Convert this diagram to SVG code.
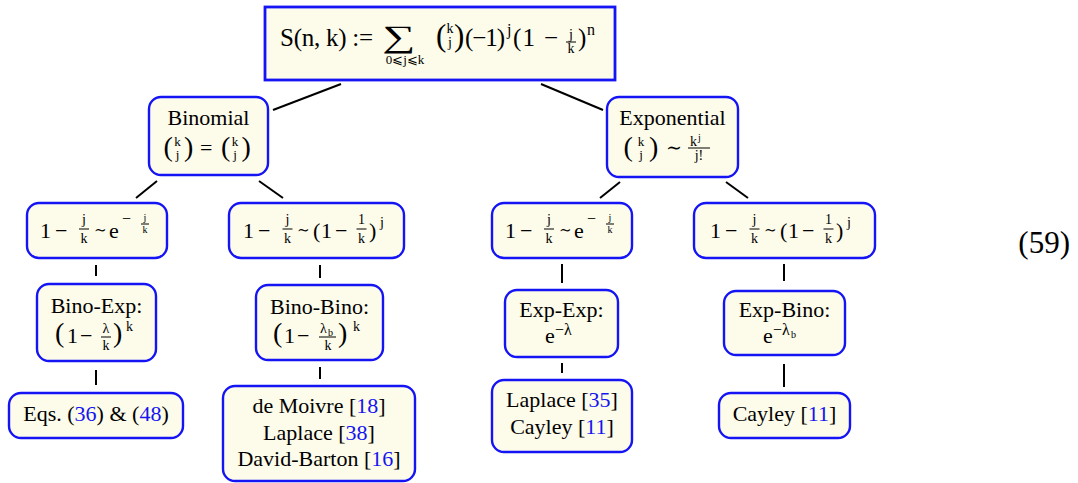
<svg xmlns="http://www.w3.org/2000/svg" width="1078" height="483" viewBox="0 0 1078 483" font-family="Liberation Serif, Times New Roman, DejaVu Serif, serif">
<style>
.box{fill:#fdfbea;stroke:#1414f5;stroke-width:2.4}
.c{stroke:#000;stroke-width:2;fill:none}
.bar{stroke:#000;stroke-width:1}
text{fill:#000;font-size:22px}
.m{text-anchor:middle}
.s{font-size:14px}
.bk{font-size:13px}
.ss{font-size:10px}
.sp{font-size:16px}
.big{font-size:28px}
.tl{font-size:15px}
.lk{fill:#1515f0}
</style>
<rect width="1078" height="483" fill="#fff"/>
<g id="connectors">
<line class="c" x1="341" y1="84" x2="273" y2="110"/>
<line class="c" x1="541" y1="84" x2="603" y2="110"/>
<line class="c" x1="157" y1="181" x2="136" y2="198"/>
<line class="c" x1="259" y1="181" x2="283" y2="198"/>
<line class="c" x1="620" y1="182" x2="600" y2="198"/>
<line class="c" x1="726" y1="182" x2="748" y2="198"/>
<line class="c" x1="96" y1="265" x2="96" y2="276"/>
<line class="c" x1="320" y1="265" x2="320" y2="278"/>
<line class="c" x1="562" y1="264" x2="562" y2="283"/>
<line class="c" x1="784" y1="264" x2="784" y2="281"/>
<line class="c" x1="96" y1="370" x2="96" y2="385"/>
<line class="c" x1="320" y1="367" x2="320" y2="379"/>
<line class="c" x1="562" y1="363" x2="562" y2="373"/>
<line class="c" x1="784" y1="364" x2="784" y2="387"/>
</g>
<g id="n0">
<rect class="box" x="265" y="7" width="350" height="73" style="stroke-width:2.8"/>
<text x="280" y="46" style="font-size:25px" textLength="93" lengthAdjust="spacing">S(n, k) :=</text>
<text transform="translate(382,47) scale(1.5,1)" style="font-size:31px">∑</text>
<text x="405" y="64" class="m" style="font-size:13px">0⩽j⩽k</text>
<text x="436" y="46" style="font-size:31px">(</text>
<text x="450" y="33" class="m s">k</text>
<text x="450" y="47" class="m s">j</text>
<text x="454" y="46" style="font-size:31px">)</text>
<text x="465" y="46" style="font-size:25px" textLength="40" lengthAdjust="spacing">(−1)</text>
<text x="507" y="35" class="sp">j</text>
<text x="513" y="46" style="font-size:25px" textLength="45" lengthAdjust="spacing">(1 −</text>
<text x="571" y="39" class="m s">j</text>
<line class="bar" x1="566" y1="42" x2="576" y2="42"/>
<text x="571" y="53" class="m s">k</text>
<text x="578" y="46" style="font-size:25px">)</text>
<text x="587" y="35" class="sp">n</text>
</g>
<g id="n1">
<rect class="box" x="149" y="97" width="119" height="78" rx="12"/>
<text x="208.5" y="125" class="m">Binomial</text>
<text x="163.5" y="156" class="big">(</text>
<text x="177.5" y="146" class="m bk">k</text>
<text x="177.5" y="159" class="m bk">j</text>
<text x="184" y="156" class="big">)</text>
<text x="200" y="155">=</text>
<text x="221" y="156" class="big">(</text>
<text x="235" y="146" class="m bk">k</text>
<text x="235" y="159" class="m bk">j</text>
<text x="241.5" y="156" class="big">)</text>
</g>
<g id="n2">
<rect class="box" x="607" y="97" width="131" height="80" rx="12"/>
<text x="672.5" y="125" class="m">Exponential</text>
<text x="623.5" y="156" class="big">(</text>
<text x="641" y="146" class="m bk">k</text>
<text x="641" y="159" class="m bk">j</text>
<text x="649" y="156" class="big">)</text>
<text x="666" y="154" style="font-size:19px">∼</text>
<text x="690" y="146" class="s">k</text>
<text x="698" y="141" class="ss">j</text>
<line class="bar" x1="688" y1="148" x2="710" y2="148"/>
<text x="699" y="160" class="m s">j!</text>
</g>
<g id="n3">
<rect class="box" x="27" y="203" width="140" height="55" rx="12"/>
<text x="40" y="238">1</text>
<text x="55" y="238">−</text>
<text x="84" y="224" class="m s">j</text>
<line class="bar" x1="79" y1="229" x2="89" y2="229"/>
<text x="84" y="243" class="m s">k</text>
<text x="94" y="235" class="tl">∼</text>
<text x="109" y="238">e</text>
<text x="122" y="224" class="sp">−</text>
<text x="145" y="221" class="m ss">j</text>
<line class="bar" x1="141" y1="224" x2="149" y2="224"/>
<text x="145" y="233" class="m ss">k</text>
</g>
<g id="n4">
<rect class="box" x="229" y="203" width="175" height="55" rx="12"/>
<text x="243" y="238">1</text>
<text x="258" y="238">−</text>
<text x="287.5" y="224" class="m s">j</text>
<line class="bar" x1="282.5" y1="229" x2="292.5" y2="229"/>
<text x="287.5" y="243" class="m s">k</text>
<text x="297" y="235" class="tl">∼</text>
<text x="313" y="238">(</text>
<text x="321" y="238">1</text>
<text x="335" y="238">−</text>
<text x="361.5" y="224" class="m s">1</text>
<line class="bar" x1="356.5" y1="229" x2="366.5" y2="229"/>
<text x="361.5" y="243" class="m s">k</text>
<text x="369" y="238">)</text>
<text x="380" y="227" class="s">j</text>
</g>
<g id="n5">
<rect class="box" x="492" y="203" width="140" height="55" rx="12"/>
<text x="505" y="238">1</text>
<text x="520" y="238">−</text>
<text x="549" y="224" class="m s">j</text>
<line class="bar" x1="544" y1="229" x2="554" y2="229"/>
<text x="549" y="243" class="m s">k</text>
<text x="559" y="235" class="tl">∼</text>
<text x="574" y="238">e</text>
<text x="587" y="224" class="sp">−</text>
<text x="610" y="221" class="m ss">j</text>
<line class="bar" x1="606" y1="224" x2="614" y2="224"/>
<text x="610" y="233" class="m ss">k</text>
</g>
<g id="n6">
<rect class="box" x="694" y="203" width="181" height="55" rx="12"/>
<text x="710" y="238">1</text>
<text x="725" y="238">−</text>
<text x="754.5" y="224" class="m s">j</text>
<line class="bar" x1="749.5" y1="229" x2="759.5" y2="229"/>
<text x="754.5" y="243" class="m s">k</text>
<text x="764" y="235" class="tl">∼</text>
<text x="780" y="238">(</text>
<text x="788" y="238">1</text>
<text x="802" y="238">−</text>
<text x="828.5" y="224" class="m s">1</text>
<line class="bar" x1="823.5" y1="229" x2="833.5" y2="229"/>
<text x="828.5" y="243" class="m s">k</text>
<text x="836" y="238">)</text>
<text x="847" y="227" class="s">j</text>
</g>
<g id="n7">
<rect class="box" x="37" y="284" width="119" height="77" rx="12"/>
<text x="96.5" y="313" class="m">Bino-Exp:</text>
<text x="55" y="342" class="big">(</text>
<text x="67" y="343">1</text>
<text x="80" y="343">−</text>
<text x="106" y="333" class="m s">λ</text>
<line class="bar" x1="101" y1="337" x2="111" y2="337"/>
<text x="106" y="350" class="m s">k</text>
<text x="113" y="342" class="big">)</text>
<text x="126" y="331" class="s">k</text>
</g>
<g id="n8">
<rect class="box" x="256" y="285" width="127" height="75" rx="12"/>
<text x="319.5" y="314" class="m">Bino-Bino:</text>
<text x="273" y="342" class="big">(</text>
<text x="284" y="343">1</text>
<text x="297" y="343">−</text>
<text x="320" y="333" class="s">λ</text>
<text x="328" y="336" class="ss">b</text>
<line class="bar" x1="319" y1="337" x2="336" y2="337"/>
<text x="328" y="350" class="m s">k</text>
<text x="338" y="342" class="big">)</text>
<text x="353" y="331" class="s">k</text>
</g>
<g id="n9">
<rect class="box" x="505" y="290" width="113" height="67" rx="12"/>
<text x="561.5" y="317" class="m">Exp-Exp:</text>
<text x="545" y="343">e</text>
<text x="555" y="335" class="sp">−λ</text>
</g>
<g id="n10">
<rect class="box" x="724" y="291" width="121" height="64" rx="12"/>
<text x="784.5" y="317" class="m">Exp-Bino:</text>
<text x="763" y="343">e</text>
<text x="773" y="335" class="sp">−λ</text>
<text x="791" y="338" class="ss">b</text>
</g>
<g id="n11">
<rect class="box" x="9" y="393" width="174" height="45" rx="12"/>
<text x="96" y="421" class="m">Eqs. (<tspan class="lk">36</tspan>) &amp; (<tspan class="lk">48</tspan>)</text>
</g>
<g id="n12">
<rect class="box" x="223" y="386" width="192" height="95" rx="12"/>
<text x="319" y="413" class="m">de Moivre [<tspan class="lk">18</tspan>]</text>
<text x="319" y="440" class="m">Laplace [<tspan class="lk">38</tspan>]</text>
<text x="319" y="466" class="m">David-Barton [<tspan class="lk">16</tspan>]</text>
</g>
<g id="n13">
<rect class="box" x="492" y="380" width="140" height="72" rx="12"/>
<text x="562" y="407" class="m">Laplace [<tspan class="lk">35</tspan>]</text>
<text x="562" y="434" class="m">Cayley [<tspan class="lk">11</tspan>]</text>
</g>
<g id="n14">
<rect class="box" x="719" y="393" width="131" height="45" rx="12"/>
<text x="784.5" y="421" class="m">Cayley [<tspan class="lk">11</tspan>]</text>
</g>
<text x="1070" y="253" style="font-size:31px;text-anchor:end">(59)</text>
</svg>
